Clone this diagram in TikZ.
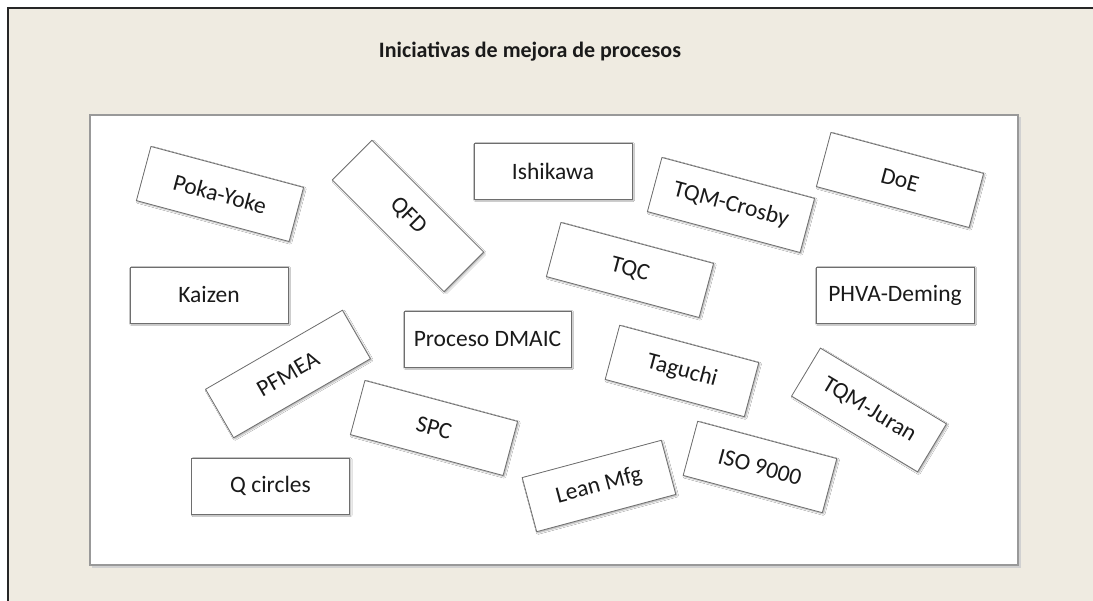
\documentclass[tikz,border=0pt]{standalone}
\usepackage{fontspec}
\setmainfont{Carlito}
\usepackage{xcolor}
\usetikzlibrary{shadows.blur}

\definecolor{paper}{HTML}{EFEBE1}
\definecolor{cardedge}{HTML}{6E6E6E}
\definecolor{ink}{HTML}{1A1A1A}

\begin{document}
\begin{tikzpicture}[x=1pt,y=-1pt,
  card/.style={draw=cardedge, line width=0.8pt, fill=white,
    minimum width=158pt, minimum height=56pt, inner sep=0pt,
    text=ink, font=\fontsize{23.5}{27}\selectfont,
    blur shadow={shadow xshift=1.2pt, shadow yshift=-1.2pt,
      shadow blur radius=1.5pt, shadow opacity=35}},
  narrow/.style={minimum width=144pt}]

% Canvas
\useasboundingbox (0,0) rectangle (1093,601);
\fill[paper] (8,8) rectangle (1093,601);
\draw[black!85, line width=1.5pt] (8,601) -- (8,8) -- (1093,8);

% Title
\node[font=\bfseries\fontsize{22}{26}\selectfont, text=ink] (title) at (530,52)
  {Iniciativas de mejora de procesos};

% Panel
\fill[black!18] (92,117) rectangle (1021,568);
\fill[white, draw=black!40, line width=1.2pt] (90,115) rectangle (1018,565);

% Straight cards
\node[card] (kaizen) at (209,295) {Kaizen};
\node[card] (ishikawa) at (553,171) {Ishikawa};
\node[card] (phva) at (895,295) {PHVA-Deming};
\node[card, minimum width=167pt] (dmaic) at (487.5,339) {Proceso DMAIC};
\node[card] (qcircles) at (270.5,486) {Q circles};

% Tilted cards
\node[card, rotate=-15] (pokayoke) at (220,194) {Poka-Yoke};
\node[card, rotate=-45] (qfd) at (408,216) {QFD};
\node[card, rotate=-15] (crosby) at (731,205) {TQM-Crosby};
\node[card, rotate=-15] (tqc) at (630,270) {TQC};
\node[card, rotate=-15] (doe) at (900,180) {DoE};
\node[card, rotate=30] (pfmea) at (288,374) {PFMEA};
\node[card, rotate=-15] (spc) at (434,428) {SPC};
\node[card, narrow, rotate=-15] (taguchi) at (682,371) {Taguchi};
\node[card, minimum width=147pt, rotate=-31] (juran) at (869,410) {TQM-Juran};
\node[card, narrow, rotate=-15] (iso) at (760,467) {ISO 9000};
\node[card, narrow, rotate=15] (lean) at (599,486) {Lean Mfg};

\end{tikzpicture}
\end{document}
